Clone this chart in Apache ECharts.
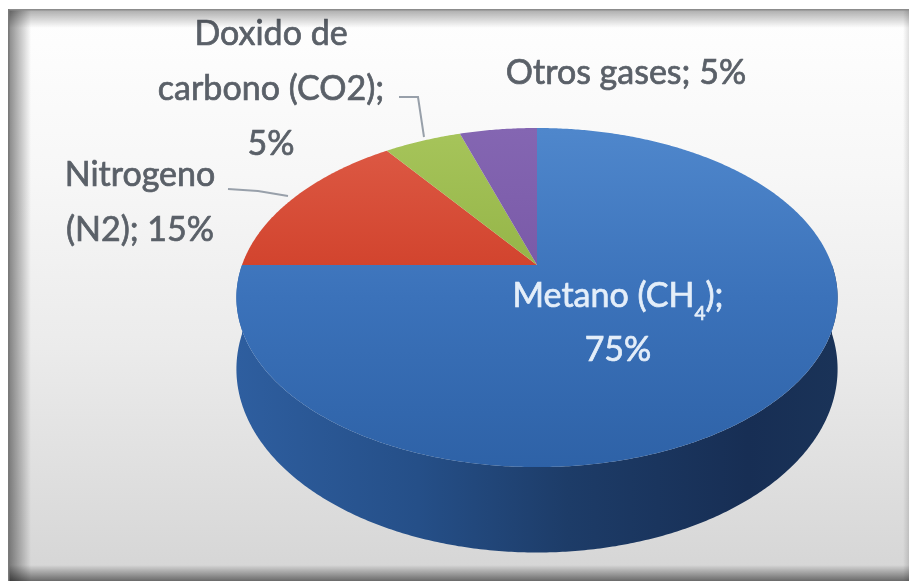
<!DOCTYPE html>
<html>
<head>
<meta charset="utf-8">
<script src="https://cdn.jsdelivr.net/npm/echarts@6/dist/echarts.min.js"></script>
<style>
  html, body { margin: 0; padding: 0; background: #ffffff; }
  #chart { width: 909px; height: 581px; }
</style>
</head>
<body>
<div id="chart"></div>
<script>
// Composición del gas (%)
const categories = ['Metano (CH4)', 'Nitrogeno (N2)', 'Doxido de carbono (CO2)', 'Otros gases'];
const values = [75, 15, 5, 5];
// Label lines per slice; "{v}" is replaced by the slice value
const labelLines = [
  ['{m|Metano (CH}{sub|4}{m|);}', '{m|{v}%}'],
  ['Nitrogeno', '(N2); {v}%'],
  ['Doxido de', 'carbono (CO2);', '{v}%'],
  ['Otros gases; {v}%']
];

// ---- styling / layout ----
const pie = { cx: 537, cy: 265, rx: 295, ry: 163.3, persp: 0.192, depth: 69 };
const topFills = [
  { type: 'linear', x: 0, y: 128, x2: 0, y2: 467, global: true,
    colorStops: [{ offset: 0, color: '#4f87cc' }, { offset: 0.5, color: '#3b72ba' }, { offset: 1, color: '#2e62a7' }] },
  { type: 'linear', x: 0, y: 150, x2: 0, y2: 265, global: true,
    colorStops: [{ offset: 0, color: '#dc5843' }, { offset: 1, color: '#d2442e' }] },
  { type: 'linear', x: 0, y: 134, x2: 0, y2: 265, global: true,
    colorStops: [{ offset: 0, color: '#a6c45a' }, { offset: 1, color: '#95b548' }] },
  { type: 'linear', x: 0, y: 128, x2: 0, y2: 265, global: true,
    colorStops: [{ offset: 0, color: '#8466b2' }, { offset: 1, color: '#7a5aa8' }] }
];
const wallFill = { type: 'linear', x: 238, y: 0, x2: 838, y2: 0, global: true,
  colorStops: [
    { offset: 0, color: '#2e5e9f' }, { offset: 0.3, color: '#254f88' },
    { offset: 0.55, color: '#1d3c68' }, { offset: 0.85, color: '#172e54' }, { offset: 1, color: '#1a3358' }
  ] };
const outerText = '#5a6068';
const labelFont = '34px Lato, "Liberation Sans", Arial, sans-serif';
const subFont = '19px Lato, "Liberation Sans", Arial, sans-serif';
const labelLayout = [
  { x: 618, y: 269, lineHeight: 54, color: '#e4eef9' },
  { x: 140, y: 148, lineHeight: 55, color: outerText, leader: [[228, 189], [258, 191], [288, 196]] },
  { x: 271, y: 7, lineHeight: 55, color: outerText, leader: [[399, 97], [418, 97], [424, 137]] },
  { x: 626, y: 46, lineHeight: 55, color: outerText }
];

const total = values.reduce((a, b) => a + b, 0);
const starts = [];
values.reduce((acc, v, i) => { starts[i] = acc; return acc + v; }, 0);

// point on the rim of the tilted disc; angle clockwise from 12 o'clock
function rim(phiDeg, bottom) {
  const a = phiDeg * Math.PI / 180;
  const u = Math.sin(a), v = -Math.cos(a);
  const d = 1 - pie.persp * v;
  return [pie.cx + pie.rx * u / d, pie.cy + (pie.ry * v + (bottom ? pie.depth : 0)) / d];
}
function arc(a0, a1, bottom) {
  const pts = [];
  const n = Math.max(2, Math.ceil((a1 - a0) / 0.5));
  for (let k = 0; k <= n; k++) pts.push(rim(a0 + (a1 - a0) * k / n, bottom));
  return pts;
}

function renderSlice(params, api) {
  const i = params.dataIndex;
  const val = api.value(0);
  const a0 = starts[i] / total * 360;
  const a1 = a0 + val / total * 360;
  const children = [];

  // front wall (only the half of the rim that faces the viewer)
  const w0 = Math.max(a0, 90), w1 = Math.min(a1, 270);
  if (w1 > w0) {
    const pts = arc(w0, w1, false).concat(arc(w0, w1, true).reverse());
    children.push({ type: 'polygon', z2: 1, shape: { points: pts }, style: { fill: wallFill } });
  }
  // top face
  const topPts = [[pie.cx, pie.cy]].concat(arc(a0, a1, false));
  children.push({ type: 'polygon', z2: 5, shape: { points: topPts }, style: { fill: topFills[i] } });

  // label (thin stroke in the text colour gives the heavier look)
  const lay = labelLayout[i];
  const text = labelLines[i].map(s => s.replace('{v}', val)).join('\n');
  const weight = { stroke: lay.color, lineWidth: 0.7 };
  children.push({
    type: 'text', z2: 20,
    style: Object.assign({
      text: text, x: lay.x, y: lay.y, align: 'center', verticalAlign: 'top',
      font: labelFont, fill: lay.color, lineHeight: lay.lineHeight,
      rich: {
        m: Object.assign({ font: labelFont, fill: lay.color, lineHeight: lay.lineHeight }, weight),
        sub: Object.assign({ font: subFont, fill: lay.color, lineHeight: 25, verticalAlign: 'bottom' }, weight)
      }
    }, weight)
  });
  if (lay.leader) {
    children.push({ type: 'polyline', z2: 15, shape: { points: lay.leader },
      style: { stroke: '#98a0aa', lineWidth: 2, fill: null } });
  }
  return { type: 'group', children: children };
}

const chart = echarts.init(document.getElementById('chart'), null, { renderer: 'canvas' });
chart.setOption({
  animation: false,
  backgroundColor: { type: 'linear', x: 0, y: 0, x2: 0, y2: 1,
    colorStops: [{ offset: 0, color: '#ffffff' }, { offset: 0.3, color: '#f7f7f7' },
                 { offset: 0.6, color: '#ebebeb' }, { offset: 1, color: '#d5d5d5' }] },
  graphic: [
    // picture frame
    { type: 'rect', z: 100, shape: { x: 0, y: 0, width: 909, height: 9 }, style: { fill: '#ffffff' } },
    { type: 'rect', z: 100, shape: { x: 0, y: 0, width: 8, height: 581 }, style: { fill: '#ffffff' } },
    { type: 'rect', z: 101, shape: { x: 8, y: 9, width: 901, height: 1.5 }, style: { fill: '#8c8c8c' } },
    { type: 'rect', z: 101, shape: { x: 8, y: 9, width: 1.5, height: 572 }, style: { fill: '#7a7a7a' } },
    { type: 'rect', z: 100, shape: { x: 9, y: 10, width: 900, height: 18 },
      style: { fill: { type: 'linear', x: 0, y: 0, x2: 0, y2: 1,
        colorStops: [{ offset: 0, color: 'rgba(0,0,0,0.32)' }, { offset: 1, color: 'rgba(0,0,0,0)' }] } } },
    { type: 'rect', z: 100, shape: { x: 9, y: 10, width: 22, height: 571 },
      style: { fill: { type: 'linear', x: 0, y: 0, x2: 1, y2: 0,
        colorStops: [{ offset: 0, color: 'rgba(0,0,0,0.45)' }, { offset: 1, color: 'rgba(0,0,0,0)' }] } } },
    { type: 'rect', z: 100, shape: { x: 9, y: 565, width: 900, height: 16 },
      style: { fill: { type: 'linear', x: 0, y: 0, x2: 0, y2: 1,
        colorStops: [{ offset: 0, color: 'rgba(0,0,0,0)' }, { offset: 1, color: 'rgba(0,0,0,0.5)' }] } } },
    { type: 'rect', z: 100, shape: { x: 903, y: 10, width: 6, height: 571 },
      style: { fill: { type: 'linear', x: 0, y: 0, x2: 1, y2: 0,
        colorStops: [{ offset: 0, color: 'rgba(0,0,0,0)' }, { offset: 1, color: 'rgba(0,0,0,0.12)' }] } } }
  ],
  series: [{
    type: 'custom',
    coordinateSystem: 'none',
    renderItem: renderSlice,
    data: values.map((v, i) => ({ name: categories[i], value: v }))
  }]
});
</script>
</body>
</html>
